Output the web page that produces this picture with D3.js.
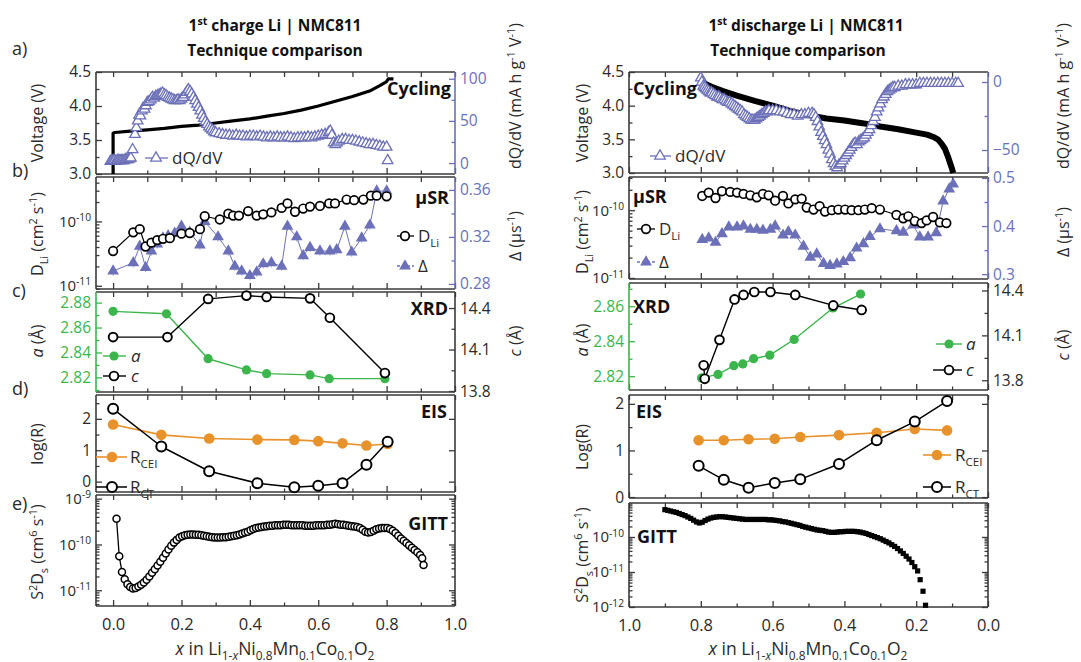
<!DOCTYPE html>
<html><head><meta charset="utf-8">
<script src="https://cdn.jsdelivr.net/npm/d3@7"></script>
<style>body{margin:0;background:#fff}svg{display:block}text{font-family:'Open Sans',sans-serif}</style>
</head><body><script>
// ---------------- DATA ----------------
const xTickLabels = [0, 0.2, 0.4, 0.6, 0.8, 1.0];
// Left: 1st charge
const chgVx = [0,0,0.005,0.05,0.1,0.15,0.2,0.25,0.3,0.35,0.4,0.45,0.5,0.55,0.6,0.65,0.7,0.75,0.78,0.8,0.805,0.82];
const chgV  = [3.0,3.6,3.61,3.63,3.65,3.67,3.70,3.72,3.75,3.78,3.81,3.85,3.89,3.94,4.00,4.07,4.14,4.22,4.30,4.36,4.40,4.40];
const chgDQx = [-0.008,-0.004,0,0.004,0.008,0.012,0.016,0.02,0.024,0.028,0.032,0.036,0.04,0.044,0.048,0.052,0.057,0.064,0.068,0.072,0.076,0.08,0.084,0.088,0.092,0.096,0.1,0.105,0.11,0.115,0.12,0.125,0.13,0.135,0.14,0.145,0.15,0.155,0.16,0.165,0.17,0.175,0.18,0.185,0.19,0.195,0.2,0.205,0.21,0.215,0.22,0.225,0.23,0.235,0.24,0.245,0.25,0.255,0.26,0.265,0.27,0.275,0.28,0.285,0.29,0.295,0.3,0.31,0.32,0.33,0.34,0.35,0.36,0.37,0.38,0.39,0.4,0.41,0.42,0.43,0.44,0.45,0.46,0.47,0.48,0.49,0.5,0.51,0.52,0.53,0.54,0.55,0.56,0.57,0.58,0.59,0.6,0.61,0.62,0.63,0.635,0.64,0.645,0.65,0.655,0.66,0.67,0.68,0.69,0.7,0.71,0.72,0.73,0.74,0.75,0.76,0.77,0.78,0.79,0.8,0.803];
const chgDQ  = [2,3,3,3,2,3,3,3,3,3,3,4,4,4,5,6,16,34,42,50,57,56,62,65,64,68,72,73,75,78,77,79,80,81,82,83,81,80,78,77,76,75,74,74,75,74,76,78,81,84,87,85,82,78,74,70,66,62,57,53,49,46,43,41,39,37,36,35,34,33,33,32,33,32,32,31,32,32,31,32,31,30,31,30,31,30,30,31,30,29,30,30,30,31,30,31,32,33,34,36,38,33,24,22,24,26,28,28,27,27,26,25,24,23,22,22,21,20,19,19,3];
const chgMuX = [0,0.059,0.078,0.095,0.112,0.129,0.146,0.166,0.2,0.224,0.254,0.268,0.312,0.337,0.351,0.368,0.395,0.42,0.439,0.463,0.493,0.51,0.532,0.556,0.576,0.605,0.632,0.649,0.683,0.705,0.732,0.754,0.771,0.8];
const chgDLiLog10 = [-10.46,-10.17,-10.12,-10.39,-10.33,-10.29,-10.27,-10.26,-10.19,-10.18,-10.12,-9.92,-9.97,-9.88,-9.91,-9.91,-9.84,-9.91,-9.89,-9.86,-9.79,-9.72,-9.85,-9.80,-9.77,-9.76,-9.72,-9.72,-9.66,-9.67,-9.66,-9.60,-9.60,-9.61];
const chgDeltaX = [0,0.059,0.078,0.095,0.112,0.129,0.146,0.161,0.18,0.2,0.224,0.254,0.268,0.307,0.337,0.356,0.376,0.4,0.42,0.439,0.463,0.493,0.51,0.537,0.556,0.576,0.605,0.634,0.654,0.678,0.698,0.727,0.751,0.771,0.8];
const chgDelta = [0.291,0.298,0.312,0.294,0.308,0.314,0.319,0.321,0.323,0.329,0.324,0.313,0.333,0.320,0.308,0.295,0.291,0.287,0.290,0.297,0.298,0.295,0.329,0.320,0.304,0.311,0.308,0.308,0.309,0.329,0.307,0.319,0.330,0.359,0.359];
const chgXrdX_a = [0,0.156,0.278,0.39,0.449,0.576,0.632,0.795];
const chgA = [2.873,2.871,2.835,2.826,2.823,2.822,2.819,2.819];
const chgXrdX_c = [0,0.159,0.278,0.39,0.449,0.576,0.634,0.795];
const chgC = [14.19,14.19,14.466,14.49,14.48,14.47,14.33,13.93];
const chgEisX = [0,0.141,0.281,0.422,0.53,0.6,0.671,0.741,0.803];
const chgRcei = [1.82,1.49,1.375,1.34,1.33,1.29,1.22,1.15,1.2];
const chgRct  = [2.32,1.12,0.33,-0.05,-0.18,-0.13,-0.05,0.54,1.27];
const chgGittX = [0.01,0.018,0.026,0.034,0.042,0.05,0.058,0.066,0.074,0.082,0.09,0.098,0.106,0.114,0.122,0.13,0.138,0.146,0.154,0.162,0.17,0.178,0.186,0.194,0.202,0.21,0.218,0.226,0.234,0.242,0.25,0.258,0.266,0.274,0.282,0.29,0.298,0.306,0.314,0.322,0.33,0.338,0.346,0.354,0.362,0.37,0.378,0.386,0.394,0.402,0.41,0.418,0.426,0.434,0.442,0.45,0.458,0.466,0.474,0.482,0.49,0.498,0.506,0.514,0.522,0.53,0.538,0.546,0.554,0.562,0.57,0.578,0.586,0.594,0.602,0.61,0.618,0.626,0.634,0.642,0.65,0.658,0.666,0.674,0.682,0.69,0.698,0.706,0.714,0.722,0.73,0.738,0.746,0.754,0.762,0.77,0.778,0.786,0.794,0.802,0.81,0.818,0.826,0.834,0.842,0.85,0.858,0.866,0.874,0.882,0.89,0.898,0.904,0.908];
const chgGittLog10 = [-9.44,-10.26,-10.60,-10.76,-10.87,-10.93,-10.96,-10.95,-10.92,-10.88,-10.83,-10.77,-10.70,-10.62,-10.54,-10.46,-10.38,-10.29,-10.20,-10.11,-10.03,-9.96,-9.90,-9.85,-9.82,-9.80,-9.79,-9.78,-9.78,-9.79,-9.79,-9.80,-9.81,-9.82,-9.83,-9.84,-9.85,-9.85,-9.85,-9.84,-9.84,-9.83,-9.82,-9.81,-9.80,-9.78,-9.76,-9.74,-9.72,-9.69,-9.66,-9.64,-9.63,-9.62,-9.61,-9.60,-9.59,-9.59,-9.58,-9.58,-9.58,-9.57,-9.57,-9.57,-9.58,-9.58,-9.58,-9.58,-9.58,-9.59,-9.59,-9.59,-9.59,-9.58,-9.58,-9.58,-9.58,-9.57,-9.57,-9.56,-9.55,-9.56,-9.57,-9.57,-9.58,-9.59,-9.60,-9.61,-9.62,-9.64,-9.68,-9.72,-9.74,-9.73,-9.70,-9.67,-9.65,-9.64,-9.64,-9.64,-9.66,-9.70,-9.75,-9.81,-9.87,-9.92,-9.97,-10.02,-10.07,-10.12,-10.17,-10.23,-10.30,-10.45];
// Right: 1st discharge
const disVx = [0.8,0.79,0.77,0.74,0.7,0.65,0.6,0.55,0.5,0.45,0.4,0.35,0.3,0.25,0.2,0.17,0.15,0.14,0.13,0.12,0.11,0.1,0.097];
const disV  = [4.40,4.33,4.28,4.22,4.15,4.07,4.00,3.92,3.86,3.81,3.78,3.74,3.69,3.65,3.60,3.57,3.53,3.50,3.44,3.36,3.22,3.06,3.0];
const disDQx = [0.8,0.797,0.793,0.79,0.786,0.782,0.778,0.774,0.77,0.765,0.76,0.755,0.75,0.745,0.74,0.735,0.73,0.725,0.72,0.715,0.71,0.705,0.7,0.695,0.69,0.685,0.68,0.675,0.67,0.665,0.66,0.655,0.65,0.645,0.64,0.635,0.63,0.625,0.62,0.615,0.61,0.6,0.59,0.58,0.57,0.56,0.55,0.54,0.53,0.52,0.51,0.5,0.49,0.485,0.48,0.475,0.47,0.465,0.46,0.455,0.45,0.445,0.44,0.435,0.43,0.425,0.42,0.415,0.41,0.405,0.4,0.395,0.39,0.385,0.38,0.375,0.37,0.365,0.36,0.355,0.35,0.345,0.34,0.335,0.33,0.325,0.32,0.315,0.31,0.305,0.3,0.295,0.29,0.285,0.28,0.275,0.27,0.265,0.26,0.25,0.24,0.23,0.22,0.21,0.2,0.19,0.18,0.17,0.16,0.15,0.14,0.13,0.12,0.11,0.1,0.09,0.083];
const disDQ  = [3,0,-3,-4,-5,-6,-7,-8,-8,-9,-10,-11,-11,-12,-13,-13,-14,-15,-15,-16,-17,-18,-19,-20,-21,-22,-24,-25,-26,-27,-28,-28,-28,-27,-26,-25,-24,-23,-22,-22,-21,-21,-21,-22,-22,-23,-24,-24,-25,-24,-24,-23,-23,-24,-26,-29,-33,-37,-40,-43,-46,-50,-53,-57,-60,-62,-63,-61,-60,-58,-56,-54,-52,-50,-48,-46,-45,-46,-44,-43,-42,-41,-39,-37,-35,-32,-29,-26,-22,-19,-16,-13,-11,-9,-7,-6,-5,-4,-4,-3,-3,-2,-2,-2,-2,-1,-1,-1,-1,-1,-1,-1,-1,-1,-1,-1,-1];
const disDLiX = [0.796,0.778,0.759,0.741,0.718,0.699,0.681,0.662,0.644,0.627,0.611,0.593,0.571,0.556,0.537,0.519,0.505,0.486,0.469,0.454,0.435,0.417,0.398,0.38,0.361,0.343,0.324,0.301,0.255,0.236,0.222,0.204,0.185,0.171,0.153,0.134,0.116];
const disDLiLog10 = [-9.79,-9.74,-9.82,-9.72,-9.73,-9.74,-9.76,-9.78,-9.81,-9.76,-9.78,-9.86,-9.79,-9.90,-9.84,-9.83,-9.96,-9.99,-9.94,-10.02,-10.00,-9.99,-9.99,-10.00,-10.00,-9.99,-9.97,-9.99,-10.07,-10.12,-10.09,-10.16,-10.19,-10.15,-10.10,-10.18,-10.19];
const disDeltaX = [0.796,0.778,0.759,0.741,0.722,0.699,0.681,0.662,0.644,0.627,0.606,0.593,0.571,0.556,0.537,0.514,0.495,0.477,0.458,0.44,0.421,0.403,0.384,0.366,0.347,0.329,0.301,0.255,0.236,0.208,0.19,0.167,0.144,0.125,0.108,0.097];
const disDelta = [0.372,0.375,0.366,0.384,0.398,0.398,0.400,0.393,0.393,0.391,0.393,0.400,0.381,0.388,0.381,0.358,0.335,0.342,0.322,0.318,0.321,0.326,0.334,0.354,0.363,0.378,0.394,0.390,0.387,0.402,0.377,0.377,0.386,0.452,0.477,0.487];
const disXrdX_a = [0.798,0.752,0.708,0.683,0.653,0.608,0.54,0.432,0.355];
const disA = [2.819,2.821,2.826,2.827,2.830,2.832,2.841,2.859,2.867];
const disXrdX_c = [0.792,0.789,0.748,0.706,0.681,0.651,0.606,0.537,0.431,0.352];
const disC = [13.90,13.81,14.07,14.34,14.37,14.39,14.39,14.37,14.30,14.27];
const disEisX = [0.806,0.736,0.667,0.594,0.523,0.415,0.31,0.204,0.114];
const disRcei = [1.22,1.22,1.24,1.25,1.29,1.33,1.38,1.46,1.43];
const disRct  = [0.67,0.37,0.20,0.30,0.38,0.71,1.22,1.62,2.06];
const disGittX = [0.9,0.892,0.884,0.876,0.868,0.86,0.852,0.844,0.836,0.828,0.82,0.812,0.804,0.796,0.788,0.78,0.772,0.764,0.756,0.748,0.74,0.732,0.724,0.716,0.708,0.7,0.692,0.684,0.676,0.668,0.66,0.652,0.644,0.636,0.628,0.62,0.612,0.604,0.596,0.588,0.58,0.572,0.564,0.556,0.548,0.54,0.532,0.524,0.516,0.508,0.5,0.492,0.484,0.476,0.468,0.46,0.452,0.444,0.436,0.428,0.42,0.412,0.404,0.396,0.388,0.38,0.372,0.364,0.356,0.348,0.34,0.332,0.324,0.316,0.308,0.3,0.292,0.284,0.276,0.268,0.26,0.252,0.244,0.236,0.228,0.22,0.212,0.204,0.196,0.189,0.181,0.174];
const disGittLog10 = [-9.22,-9.24,-9.26,-9.28,-9.30,-9.33,-9.36,-9.39,-9.43,-9.47,-9.52,-9.57,-9.60,-9.58,-9.53,-9.49,-9.46,-9.44,-9.43,-9.42,-9.42,-9.43,-9.44,-9.45,-9.46,-9.47,-9.48,-9.49,-9.50,-9.50,-9.50,-9.50,-9.50,-9.50,-9.50,-9.50,-9.51,-9.51,-9.52,-9.53,-9.54,-9.56,-9.57,-9.59,-9.61,-9.63,-9.65,-9.67,-9.70,-9.72,-9.74,-9.76,-9.78,-9.80,-9.81,-9.82,-9.84,-9.86,-9.87,-9.87,-9.86,-9.85,-9.85,-9.84,-9.84,-9.84,-9.84,-9.85,-9.86,-9.88,-9.90,-9.93,-9.96,-9.99,-10.02,-10.05,-10.09,-10.13,-10.17,-10.22,-10.27,-10.33,-10.40,-10.47,-10.55,-10.63,-10.73,-10.85,-10.97,-11.22,-11.55,-11.95];

// ---------------- DRAW ----------------
const BLUE='#6b70b8', GREEN='#3cb54c', ORANGE='#e8922c', FR='#3a3a3a', TXT='#2a2a2a';
const svg=d3.select('body').append('svg').attr('width',1081).attr('height',662);
const xL=d3.scaleLinear().domain([-0.05,1.0]).range([96,455]);
const xR=d3.scaleLinear().domain([1.0,0.0]).range([629,988]);
const zip=(a,b)=>a.map((v,i)=>[v,b[i]]);
const p10=v=>Math.pow(10,v);

function rich(x,y,parts,o={}){
  const fs=o.size||16;
  const t=svg.append('text').attr('x',x).attr('y',y).attr('font-size',fs).attr('fill',o.color||TXT)
    .attr('text-anchor',o.anchor||'middle');
  if(o.bold) t.attr('font-weight','bold');
  if(o.rotate) t.attr('transform',`rotate(-90,${x},${y})`);
  let cur=0;
  parts.forEach(p=>{
    const [s,st]=typeof p==='string'?[p,'']:p;
    const sup=st.includes('sup'), sub=st.includes('sub');
    const target=sup?-0.38*fs:sub?0.3*fs:0;
    const ts=t.append('tspan').text(s).attr('dy',target-cur);
    cur=target;
    if(sup||sub) ts.attr('font-size',fs*0.68);
    if(st.includes('it')) ts.attr('font-style','italic');
  });
  return t;
}
function styleAxis(g,color,fs){
  g.select('.domain').remove();
  g.selectAll('.tick line').attr('stroke',color||FR).attr('stroke-width',1.3);
  g.selectAll('.tick text').attr('fill',color||TXT).attr('font-size',fs||15.5).attr('font-family',"'Open Sans',sans-serif");
}
function logFmt(g){
  g.selectAll('.tick text').each(function(d){
    const t=d3.select(this); const e=Math.round(Math.log10(d));
    t.text(null); t.append('tspan').text('10');
    t.append('tspan').attr('dy','-0.55em').attr('font-size','0.68em').text(String(e));
  });
}
function logMinor(dom){
  const out=[]; const lo=Math.floor(Math.log10(dom[0])), hi=Math.ceil(Math.log10(dom[1]));
  for(let e=lo;e<=hi;e++) for(let m=2;m<=9;m++){const v=m*Math.pow(10,e); if(v>dom[0]&&v<dom[1]) out.push(v);}
  return out;
}
function yAxis(side,xpos,ax){
  const make=side==='L'?d3.axisLeft:d3.axisRight;
  const g=svg.append('g').attr('transform',`translate(${xpos},0)`);
  g.call(make(ax.s).tickValues(ax.ticks).tickSize(-6).tickSizeOuter(0).tickPadding(5).tickFormat(ax.fmt||(d=>d)));
  styleAxis(g,ax.color,ax.log?15:15.5);
  if(ax.log) logFmt(g);
  const mv=ax.log?logMinor(ax.s.domain()):(ax.minor||[]);
  const gm=svg.append('g').attr('transform',`translate(${xpos},0)`);
  gm.call(make(ax.s).tickValues(mv).tickSize(-3.5).tickSizeOuter(0).tickFormat(()=>''));
  styleAxis(gm,ax.color);
}
function panel(o){
  const [r0,r1]=o.x.range(); const L=Math.min(r0,r1), R=Math.max(r0,r1);
  const maj=xTickLabels, mnr=[0.1,0.3,0.5,0.7,0.9];
  const gb=svg.append('g').attr('transform',`translate(0,${o.bot})`);
  gb.call(d3.axisBottom(o.x).tickValues(maj).tickSize(-6).tickSizeOuter(0).tickPadding(12).tickFormat(o.xlab?d3.format('.1f'):()=>''));
  styleAxis(gb,null,16.5);
  const gbm=svg.append('g').attr('transform',`translate(0,${o.bot})`);
  gbm.call(d3.axisBottom(o.x).tickValues(mnr).tickSize(-3.5).tickSizeOuter(0).tickFormat(()=>''));
  styleAxis(gbm);
  const gt=svg.append('g').attr('transform',`translate(0,${o.top})`);
  gt.call(d3.axisTop(o.x).tickValues(maj.concat(mnr)).tickSize(-5).tickSizeOuter(0).tickFormat(()=>''));
  styleAxis(gt);
  yAxis('L',L,o.yl);
  if(o.yr) yAxis('R',R,o.yr);
  else { const g=svg.append('g').attr('transform',`translate(${R},0)`);
    g.call(d3.axisLeft(o.yl.s).tickValues(o.yl.ticks).tickSize(6).tickSizeOuter(0).tickFormat(()=>'')); styleAxis(g);
    if(o.yl.log){const g2=svg.append('g').attr('transform',`translate(${R},0)`);
      g2.call(d3.axisLeft(o.yl.s).tickValues(logMinor(o.yl.s.domain())).tickSize(3.5).tickSizeOuter(0).tickFormat(()=>'')); styleAxis(g2);}
  }
  const f=svg.append('g').attr('stroke-width',1.6);
  f.append('line').attr('x1',L).attr('x2',R).attr('y1',o.top).attr('y2',o.top).attr('stroke',FR);
  f.append('line').attr('x1',L).attr('x2',R).attr('y1',o.bot).attr('y2',o.bot).attr('stroke',FR);
  f.append('line').attr('x1',L).attr('x2',L).attr('y1',o.top).attr('y2',o.bot).attr('stroke',o.yl.color||FR);
  f.append('line').attr('x1',R).attr('x2',R).attr('y1',o.top).attr('y2',o.bot).attr('stroke',(o.yr&&o.yr.color)||FR);
}
const tri=s=>d3.symbol().type(d3.symbolTriangle).size(s)();
function line(data,x,y,stroke,w,dash){
  svg.append('path').datum(data).attr('fill','none').attr('stroke',stroke).attr('stroke-width',w)
    .attr('stroke-linejoin','round').attr('stroke-dasharray',dash||null)
    .attr('d',d3.line().x(d=>x(d[0])).y(d=>y(d[1])));
}
function circles(data,x,y,r,fill,stroke,sw){
  svg.append('g').selectAll('circle').data(data).join('circle').attr('cx',d=>x(d[0])).attr('cy',d=>y(d[1]))
    .attr('r',r).attr('fill',fill).attr('stroke',stroke).attr('stroke-width',sw||0);
}
function triangles(data,x,y,s,fill,stroke,sw){
  svg.append('g').selectAll('path').data(data).join('path').attr('d',tri(s))
    .attr('transform',d=>`translate(${x(d[0])},${y(d[1])})`).attr('fill',fill).attr('stroke',stroke).attr('stroke-width',sw||0);
}
const bold=(x,y,t,anchor)=>svg.append('text').attr('x',x).attr('y',y).attr('font-size',18).attr('font-weight','bold')
   .attr('fill','#111').attr('text-anchor',anchor).text(t);

// ===== LEFT COLUMN =====
const yLa=d3.scaleLinear().domain([3.0,4.5]).range([174,72]);
const yLa2=d3.scaleLinear().domain([-13,108]).range([174,72]);
panel({x:xL,top:72,bot:174,yl:{s:yLa,ticks:[3.0,3.5,4.0,4.5],minor:[3.25,3.75,4.25],fmt:d3.format('.1f')},
  yr:{s:yLa2,ticks:[0,50,100],minor:[25,75],fmt:d3.format('d'),color:BLUE}});
line(zip(chgVx,chgV),xL,yLa,'#000',3.2);
triangles(zip(chgDQx,chgDQ),xL,yLa2,48,'#fff',BLUE,1.3);
bold(451,95,'Cycling','end');
svg.append('line').attr('x1',145).attr('x2',168).attr('y1',158).attr('y2',158).attr('stroke',BLUE).attr('stroke-width',1.3);
triangles([[0,0]],()=>156,()=>158,48,'#fff',BLUE,1.3);
rich(172,164,['dQ/dV'],{size:17,anchor:'start'});

const yLb=d3.scaleLog().domain([p10(-11.05),p10(-9.31)]).range([289,177]);
const yLb2=d3.scaleLinear().domain([0.2757,0.371]).range([289,177]);
panel({x:xL,top:177,bot:289,yl:{s:yLb,ticks:[1e-11,1e-10],log:true},
  yr:{s:yLb2,ticks:[0.28,0.32,0.36],minor:[0.30,0.34],fmt:d3.format('.2f'),color:BLUE}});
const lDel=zip(chgDeltaX,chgDelta);
svg.append('g').selectAll('line').data(lDel).join('line').attr('x1',d=>xL(d[0])).attr('x2',d=>xL(d[0]))
  .attr('y1',d=>yLb2(d[1]-0.004)).attr('y2',d=>yLb2(d[1]+0.004)).attr('stroke','#aeb0d6').attr('stroke-width',1);
line(lDel,xL,yLb2,BLUE,1);
triangles(lDel,xL,yLb2,60,BLUE,'none');
const lD=zip(chgMuX,chgDLiLog10.map(p10));
line(lD,xL,yLb,'#000',1.2);
circles(lD,xL,yLb,4.3,'#fff','#000',1.7);
bold(449,204,'μSR','end');
svg.append('line').attr('x1',397).attr('x2',414).attr('y1',236).attr('y2',236).attr('stroke','#000').attr('stroke-width',1.3);
circles([[0,0]],()=>405,()=>236,4.3,'#fff','#000',1.7);
rich(418,242,['D',['Li','sub']],{size:17,anchor:'start'});
svg.append('line').attr('x1',397).attr('x2',414).attr('y1',266).attr('y2',266).attr('stroke',BLUE).attr('stroke-width',1.3).attr('stroke-dasharray','3,2');
triangles([[0,0]],()=>405,()=>266,60,BLUE,'none');
rich(418,272,['Δ'],{size:17,anchor:'start'});

const yLc=d3.scaleLinear().domain([2.8083,2.8885]).range([392,292]);
const yLc2=d3.scaleLinear().domain([13.793,14.516]).range([392,292]);
panel({x:xL,top:292,bot:392,yl:{s:yLc,ticks:[2.82,2.84,2.86,2.88],minor:[2.81,2.83,2.85,2.87],fmt:d3.format('.2f'),color:GREEN},
  yr:{s:yLc2,ticks:[13.8,14.1,14.4],minor:[13.95,14.25],fmt:d3.format('.1f')}});
const lA=zip(chgXrdX_a,chgA), lC=zip(chgXrdX_c,chgC);
line(lA,xL,yLc,GREEN,1.4); circles(lA,xL,yLc,4.6,GREEN,'none');
line(lC,xL,yLc2,'#000',1.4); circles(lC,xL,yLc2,4.4,'#fff','#000',1.9);
bold(448,315,'XRD','end');
svg.append('line').attr('x1',103).attr('x2',126).attr('y1',356).attr('y2',356).attr('stroke',GREEN).attr('stroke-width',1.4);
circles([[0,0]],()=>114,()=>356,4.6,GREEN,'none');
rich(131,362,[['a','it']],{size:17,anchor:'start'});
svg.append('line').attr('x1',103).attr('x2',126).attr('y1',376).attr('y2',376).attr('stroke','#000').attr('stroke-width',1.4);
circles([[0,0]],()=>114,()=>376,4.4,'#fff','#000',1.9);
rich(131,382,[['c','it']],{size:17,anchor:'start'});

const yLd=d3.scaleLinear().domain([-0.33,2.76]).range([492,395]);
panel({x:xL,top:395,bot:492,yl:{s:yLd,ticks:[0,1,2],minor:[0.5,1.5,2.5],fmt:d3.format('d')}});
const lCei=zip(chgEisX,chgRcei), lCt=zip(chgEisX,chgRct);
line(lCei,xL,yLd,ORANGE,1.6); circles(lCei,xL,yLd,5.3,ORANGE,'none');
line(lCt,xL,yLd,'#000',1.5); circles(lCt,xL,yLd,5,'#fff','#000',2);
bold(447,418,'EIS','end');
svg.append('line').attr('x1',96).attr('x2',127).attr('y1',457).attr('y2',457).attr('stroke',ORANGE).attr('stroke-width',1.6);
circles([[0,0]],()=>112,()=>457,5.3,ORANGE,'none');
rich(130,463,['R',['CEI','sub']],{size:17,anchor:'start'});
svg.append('line').attr('x1',96).attr('x2',127).attr('y1',487).attr('y2',487).attr('stroke','#000').attr('stroke-width',1.5);
circles([[0,0]],()=>112,()=>487,5,'#fff','#000',2);
rich(130,493,['R',['CT','sub']],{size:17,anchor:'start'});

const yLe=d3.scaleLog().domain([p10(-11.344),p10(-8.92)]).range([606,495]);
panel({x:xL,top:495,bot:606,xlab:true,yl:{s:yLe,ticks:[1e-11,1e-10,1e-9],log:true}});
const lG=zip(chgGittX,chgGittLog10.map(p10));
line(lG,xL,yLe,'#000',1.3);
circles(lG,xL,yLe,3.5,'#fff','#000',1.5);
bold(448,530,'GITT','end');

// ===== RIGHT COLUMN =====
const yRa=d3.scaleLinear().domain([3.0,4.5]).range([173,72]);
const yRa2=d3.scaleLinear().domain([-66.9,7.35]).range([173,72]);
panel({x:xR,top:72,bot:173,yl:{s:yRa,ticks:[3.0,3.5,4.0,4.5],minor:[3.25,3.75,4.25],fmt:d3.format('.1f')},
  yr:{s:yRa2,ticks:[-50,0],minor:[-25],fmt:d3.format('d'),color:BLUE}});
line(zip(disVx,disV),xR,yRa,'#000',6);
triangles(zip(disDQx,disDQ),xR,yRa2,48,'#fff',BLUE,1.3);
bold(633,95,'Cycling','start');
svg.append('line').attr('x1',650).attr('x2',671).attr('y1',156).attr('y2',156).attr('stroke',BLUE).attr('stroke-width',1.3);
triangles([[0,0]],()=>660,()=>156,48,'#fff',BLUE,1.3);
rich(675,162,['dQ/dV'],{size:17,anchor:'start'});

const yRb=d3.scaleLog().domain([p10(-11.015),p10(-9.51)]).range([279,177]);
const yRb2=d3.scaleLinear().domain([0.29,0.502]).range([279,177]);
panel({x:xR,top:177,bot:279,yl:{s:yRb,ticks:[1e-11,1e-10],log:true},
  yr:{s:yRb2,ticks:[0.3,0.4,0.5],minor:[0.35,0.45],fmt:d3.format('.1f'),color:BLUE}});
const rDel=zip(disDeltaX,disDelta);
line(rDel,xR,yRb2,BLUE,1);
triangles(rDel,xR,yRb2,60,BLUE,'none');
const rD=zip(disDLiX,disDLiLog10.map(p10));
line(rD,xR,yRb,'#000',1.2);
circles(rD,xR,yRb,4.3,'#fff','#000',1.7);
bold(633,203,'μSR','start');
svg.append('line').attr('x1',637).attr('x2',655).attr('y1',229).attr('y2',229).attr('stroke','#000').attr('stroke-width',1.3);
circles([[0,0]],()=>646,()=>229,4.3,'#fff','#000',1.7);
rich(659,235,['D',['Li','sub']],{size:17,anchor:'start'});
svg.append('line').attr('x1',637).attr('x2',655).attr('y1',262).attr('y2',262).attr('stroke',BLUE).attr('stroke-width',1.3).attr('stroke-dasharray','3,2');
triangles([[0,0]],()=>646,()=>262,60,BLUE,'none');
rich(659,268,['Δ'],{size:17,anchor:'start'});

const yRc=d3.scaleLinear().domain([2.8121,2.8733]).range([390,283]);
const yRc2=d3.scaleLinear().domain([13.735,14.45]).range([390,283]);
panel({x:xR,top:283,bot:390,yl:{s:yRc,ticks:[2.82,2.84,2.86],minor:[2.83,2.85,2.87],fmt:d3.format('.2f'),color:GREEN},
  yr:{s:yRc2,ticks:[13.8,14.1,14.4],minor:[13.95,14.25],fmt:d3.format('.1f')}});
const rA=zip(disXrdX_a,disA), rC=zip(disXrdX_c,disC);
line(rA,xR,yRc,GREEN,1.4); circles(rA,xR,yRc,4.6,GREEN,'none');
line(rC,xR,yRc2,'#000',1.4); circles(rC,xR,yRc2,4.4,'#fff','#000',1.9);
bold(633,313,'XRD','start');
svg.append('line').attr('x1',936).attr('x2',962).attr('y1',344).attr('y2',344).attr('stroke',GREEN).attr('stroke-width',1.4);
circles([[0,0]],()=>949,()=>344,4.6,GREEN,'none');
rich(966,350,[['a','it']],{size:17,anchor:'start'});
svg.append('line').attr('x1',933).attr('x2',962).attr('y1',370).attr('y2',370).attr('stroke','#000').attr('stroke-width',1.4);
circles([[0,0]],()=>949,()=>370,4.4,'#fff','#000',1.9);
rich(966,376,[['c','it']],{size:17,anchor:'start'});

const yRd=d3.scaleLinear().domain([-0.02,2.19]).range([498,395]);
panel({x:xR,top:395,bot:498,yl:{s:yRd,ticks:[0,1,2],minor:[0.5,1.5],fmt:d3.format('d')}});
const rCei=zip(disEisX,disRcei), rCt=zip(disEisX,disRct);
line(rCei,xR,yRd,ORANGE,1.6); circles(rCei,xR,yRd,5.3,ORANGE,'none');
line(rCt,xR,yRd,'#000',1.5); circles(rCt,xR,yRd,5,'#fff','#000',2);
bold(636,418,'EIS','start');
svg.append('line').attr('x1',923).attr('x2',951).attr('y1',455).attr('y2',455).attr('stroke',ORANGE).attr('stroke-width',1.6);
circles([[0,0]],()=>937,()=>455,5.3,ORANGE,'none');
rich(955,461,['R',['CEI','sub']],{size:17,anchor:'start'});
svg.append('line').attr('x1',923).attr('x2',951).attr('y1',487).attr('y2',487).attr('stroke','#000').attr('stroke-width',1.5);
circles([[0,0]],()=>937,()=>487,5,'#fff','#000',2);
rich(955,493,['R',['CT','sub']],{size:17,anchor:'start'});

const yRe=d3.scaleLog().domain([1e-12,p10(-9.03)]).range([607,503]);
panel({x:xR,top:503,bot:607,xlab:true,yl:{s:yRe,ticks:[1e-12,1e-11,1e-10],log:true}});
const rG=zip(disGittX,disGittLog10.map(p10));
svg.append('g').selectAll('rect').data(rG).join('rect').attr('x',d=>xR(d[0])-2.6).attr('y',d=>yRe(d[1])-2.6)
  .attr('width',5.2).attr('height',5.2).attr('fill','#000');
bold(637,543,'GITT','start');

// ===== TEXT =====
rich(275,31,['1',['st','sup'],' charge Li | NMC811'],{size:15.5,bold:true,color:'#111'});
rich(275,56,['Technique comparison'],{size:15.5,bold:true,color:'#111'});
rich(806,31,['1',['st','sup'],' discharge Li | NMC811'],{size:15.5,bold:true,color:'#111'});
rich(798,56,['Technique comparison'],{size:15.5,bold:true,color:'#111'});
[['a)',55],['b)',177],['c)',297],['d)',395],['e)',510]].forEach(([t,y])=>rich(12,y,[t],{size:18,anchor:'start'}));
rich(43,123,['Voltage (V)'],{size:16,rotate:true});
rich(43,234,['D',['Li','sub'],' (cm',['2','sup'],' s',['-1','sup'],')'],{size:16,rotate:true});
rich(43,341,[['a','it'],' (Å)'],{size:16,rotate:true});
rich(43,444,['log(R)'],{size:16,rotate:true});
rich(43,552,['S',['2','sup'],'D',['s','sub'],' (cm',['6','sup'],' s',['-1','sup'],')'],{size:16,rotate:true});
rich(521,96,['dQ/dV (mA h g',['-1','sup'],' V',['-1','sup'],')'],{size:16,rotate:true});
rich(521,236,['Δ (μs',['-1','sup'],')'],{size:16,rotate:true});
rich(521,341,[['c','it'],' (Å)'],{size:16,rotate:true});
rich(588,123,['Voltage (V)'],{size:16,rotate:true});
rich(588,232,['D',['Li','sub'],' (cm',['2','sup'],' s',['-1','sup'],')'],{size:16,rotate:true});
rich(588,340,[['a','it'],' (Å)'],{size:16,rotate:true});
rich(588,447,['Log(R)'],{size:16,rotate:true});
rich(588,555,['S',['2','sup'],'D',['s','sub'],' (cm',['6','sup'],' s',['-1','sup'],')'],{size:16,rotate:true});
rich(1069,96,['dQ/dV (mA h g',['-1','sup'],' V',['-1','sup'],')'],{size:16,rotate:true});
rich(1069,232,['Δ (μs',['-1','sup'],')'],{size:16,rotate:true});
rich(1069,345,[['c','it'],' (Å)'],{size:16,rotate:true});
const xt=[['x','it'],' in Li',['1-','sub'],['x','subit'],'Ni',['0.8','sub'],'Mn',['0.1','sub'],'Co',['0.1','sub'],'O',['2','sub']];
rich(275,655,xt,{size:17.5});
rich(808,655,xt,{size:17.5});
</script></body></html>
